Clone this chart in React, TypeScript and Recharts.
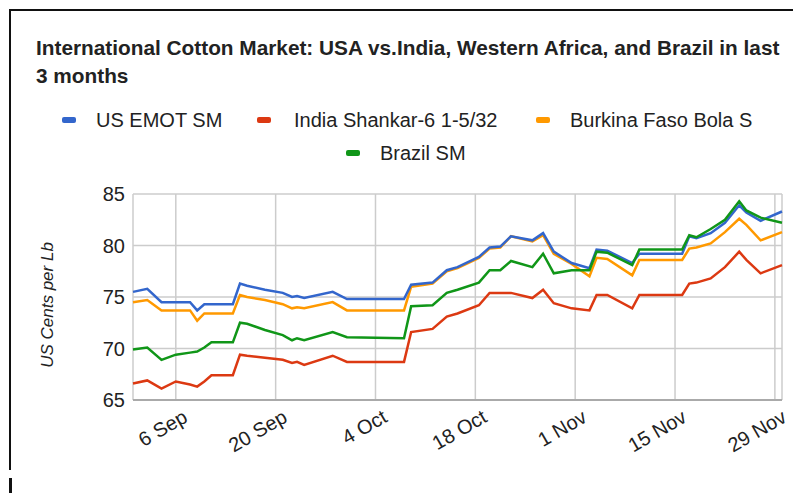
import React from 'react';
import { LineChart, Line, XAxis, YAxis, CartesianGrid, ReferenceLine } from 'recharts';

// days counted from 31 Aug
const days = [0, 2, 4, 6, 8, 9, 10, 11, 14, 15, 16, 18.5, 21, 22.3, 23, 24, 28, 30, 38, 39, 42, 44, 45.5, 48.5, 50, 51.5, 53, 56, 57.5, 59, 61.5, 64, 65, 66.5, 70, 71, 77, 78, 79, 81, 83, 85, 86, 88, 91];

const usEmot = [75.5, 75.8, 74.5, 74.5, 74.5, 73.7, 74.3, 74.3, 74.3, 76.3, 76.1, 75.7, 75.4, 75.0, 75.1, 74.9, 75.5, 74.8, 74.8, 76.2, 76.4, 77.6, 77.9, 78.9, 79.8, 79.9, 80.9, 80.5, 81.2, 79.4, 78.3, 77.8, 79.6, 79.5, 78.3, 79.2, 79.2, 80.9, 80.7, 81.2, 82.2, 83.9, 83.2, 82.4, 83.3];
const indiaShankar = [66.6, 66.9, 66.1, 66.8, 66.5, 66.3, 66.8, 67.4, 67.4, 69.4, 69.3, 69.1, 68.9, 68.6, 68.7, 68.4, 69.3, 68.7, 68.7, 71.6, 71.9, 73.1, 73.4, 74.2, 75.4, 75.4, 75.4, 74.9, 75.7, 74.4, 73.9, 73.7, 75.2, 75.2, 73.9, 75.2, 75.2, 76.3, 76.4, 76.8, 77.9, 79.4, 78.6, 77.3, 78.1];
const burkina = [74.5, 74.7, 73.7, 73.7, 73.7, 72.7, 73.4, 73.4, 73.4, 75.2, 75.0, 74.7, 74.3, 73.9, 74.0, 73.9, 74.5, 73.7, 73.7, 76.0, 76.3, 77.5, 77.8, 78.8, 79.7, 79.8, 80.9, 80.4, 81.0, 79.2, 78.2, 77.0, 78.8, 78.7, 77.1, 78.6, 78.6, 79.7, 79.8, 80.2, 81.3, 82.6, 82.0, 80.5, 81.3];
const brazil = [69.9, 70.1, 68.9, 69.4, 69.6, 69.7, 70.1, 70.6, 70.6, 72.5, 72.4, 71.8, 71.3, 70.8, 71.0, 70.8, 71.6, 71.1, 71.0, 74.1, 74.2, 75.4, 75.7, 76.4, 77.6, 77.6, 78.5, 77.9, 79.2, 77.3, 77.6, 77.6, 79.4, 79.3, 78.1, 79.6, 79.6, 81.0, 80.8, 81.6, 82.5, 84.3, 83.4, 82.7, 82.2];

const tickDays = [6, 20, 34, 48, 62, 76, 90];
const tickLabels = ['6 Sep', '20 Sep', '4 Oct', '18 Oct', '1 Nov', '15 Nov', '29 Nov'];
const yTicks = [65, 70, 75, 80, 85];

const seriesNames = ['US EMOT SM', 'India Shankar-6 1-5/32', 'Burkina Faso Bola S', 'Brazil SM'];
const colors = ['#3366cc', '#dc3912', '#ff9900', '#109618'];

const data = days.map((d, i) => ({
  day: d,
  us: usEmot[i],
  india: indiaShankar[i],
  burkina: burkina[i],
  brazil: brazil[i],
}));

const FONT = "'Liberation Sans', Arial, sans-serif";

function XTick(props: any) {
  const { x, y, payload } = props;
  const label = tickLabels[tickDays.indexOf(payload.value)];
  return (
    <text
      x={0}
      y={0}
      transform={`translate(${x + 13},${y + 13}) rotate(-30)`}
      textAnchor="end"
      fontSize={20}
      fontFamily={FONT}
      fill="#222"
    >
      {label}
    </text>
  );
}

// legend positions: [swatch x, text x, row center y]
const legendPos = [
  [62, 96, 120],
  [257, 294, 120],
  [536, 570, 120],
  [346, 380, 153],
];

export default function App() {
  return (
    <div style={{ position: 'absolute', left: 0, top: 0, width: 793, height: 493, background: '#fff', fontFamily: FONT, overflow: 'hidden' }}>
      {/* frame of the screenshot */}
      <div style={{ position: 'absolute', left: 9, top: 9, right: 0, height: 0, borderTop: '2px solid #111' }} />
      <div style={{ position: 'absolute', left: 9, top: 9, width: 2, height: 461, background: '#111' }} />
      <div style={{ position: 'absolute', left: 9, top: 478, width: 3, height: 15, background: '#111' }} />

      {/* title */}
      <div style={{ position: 'absolute', left: 36, top: 34, fontSize: 20.8, fontWeight: 'bold', lineHeight: '28px', color: '#222', whiteSpace: 'nowrap' }}>
        International Cotton Market: USA vs.India, Western Africa, and Brazil in last
        <br />
        3 months
      </div>

      {/* legend */}
      {seriesNames.map((name, i) => (
        <React.Fragment key={name}>
          <div style={{ position: 'absolute', left: legendPos[i][0], top: legendPos[i][2] - 3, width: 14, height: 6, borderRadius: 2, background: colors[i] }} />
          <div style={{ position: 'absolute', left: legendPos[i][1], top: legendPos[i][2] - 12, fontSize: 20, lineHeight: '24px', color: '#222', whiteSpace: 'nowrap' }}>
            {name}
          </div>
        </React.Fragment>
      ))}

      {/* y axis title */}
      <div style={{ position: 'absolute', left: 48, top: 305, transform: 'translate(-50%, -50%) rotate(-90deg)', fontSize: 17, fontStyle: 'italic', color: '#222', whiteSpace: 'nowrap' }}>
        US Cents per Lb
      </div>

      <div style={{ position: 'absolute', left: 0, top: 0 }}>
        <LineChart width={793} height={493} data={data} margin={{ top: 194, right: 11, bottom: 0, left: 0 }}>
          <CartesianGrid stroke="#ccc" strokeWidth={1.5} />
          <XAxis
            dataKey="day"
            type="number"
            domain={[0, 91]}
            ticks={tickDays}
            tick={<XTick />}
            tickLine={false}
            axisLine={false}
            height={93}
            interval={0}
          />
          <YAxis
            domain={[65, 85]}
            ticks={yTicks}
            width={133}
            tickLine={false}
            axisLine={false}
            tick={{ fontSize: 20, fill: '#222', fontFamily: FONT }}
          />
          <ReferenceLine y={65} stroke="#aaa" strokeWidth={2} />
          <Line dataKey="india" stroke={colors[1]} strokeWidth={2.5} dot={false} isAnimationActive={false} />
          <Line dataKey="burkina" stroke={colors[2]} strokeWidth={2.5} dot={false} isAnimationActive={false} />
          <Line dataKey="us" stroke={colors[0]} strokeWidth={2.5} dot={false} isAnimationActive={false} />
          <Line dataKey="brazil" stroke={colors[3]} strokeWidth={2.5} dot={false} isAnimationActive={false} />
        </LineChart>
      </div>
    </div>
  );
}
